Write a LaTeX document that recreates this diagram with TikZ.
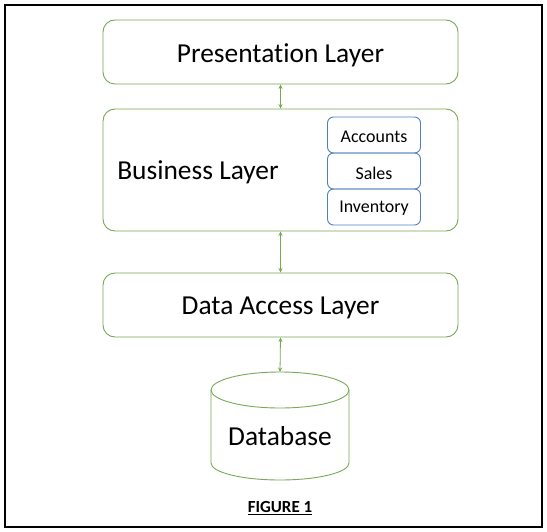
\documentclass[tikz,border=0pt]{standalone}
\usepackage{fontspec}
\setmainfont{Carlito}[Ligatures={NoCommon,NoRare,NoContextual}]
\usetikzlibrary{arrows.meta}
\definecolor{lgreen}{RGB}{119,168,83}
\definecolor{lblue}{RGB}{79,129,189}
\tikzset{
  layer/.style={draw=lgreen,line width=0.9bp,rounded corners=12bp},
  big/.style={font=\fontsize{27.5}{30}\selectfont},
  sub/.style={draw=lblue,line width=0.9bp,rounded corners=6bp,minimum width=93bp,minimum height=36bp,inner sep=0pt},
  subtext/.style={font=\fontsize{18}{20}\selectfont},
  link/.style={draw=lgreen,line width=0.8bp,{Stealth[length=4.5bp,width=4bp]}-{Stealth[length=4.5bp,width=4bp]}},
  dbline/.style={draw=lgreen,line width=0.9bp},
}
\begin{document}
\begin{tikzpicture}[x=1bp,y=-1bp]
\useasboundingbox (0,0) rectangle (547,532);
\draw[line width=2bp] (5,5) rectangle (541.5,527);
% layers
\node[layer,minimum width=355bp,minimum height=64bp] (pres) at (280.5,52) {};
\node[big] (prest) at (280.5,55.5) {Presentation Layer};
\node[layer,minimum width=355bp,minimum height=122bp] (bus) at (280.5,170) {};
\node[big] (bust) at (198,172) {Business Layer};
\node[sub] (acc) at (374,135) {};
\node[sub] (sal) at (374,171) {};
\node[sub] (inv) at (374,207) {};
\node[subtext] (acct) at (374,137) {Accounts};
\node[subtext] (salt) at (374,173) {Sales};
\node[subtext] (invt) at (374,208.5) {Inventory};
\node[layer,minimum width=355bp,minimum height=64bp] (dal) at (280.5,305) {};
\node[big] (dalt) at (280.5,307.5) {Data Access Layer};
% database cylinder
\coordinate (dbtop) at (280,372);
\draw[dbline] (280,390) ellipse [x radius=69bp, y radius=18bp];
\draw[dbline] (211,390) -- (211,463) arc [start angle=180, end angle=360, x radius=69bp, y radius=17bp] -- (349,390);
\node[big] (dbt) at (280,436) {Database};
% arrows
\draw[link] (pres.south) -- (bus.north);
\draw[link] (bus.south) -- (dal.north);
\draw[link] (dal.south) -- (dbtop);
% caption
\node[font=\bfseries\fontsize{17}{19}\selectfont] (cap) at (280,508) {\underline{FIGURE 1}};
\end{tikzpicture}
\end{document}
